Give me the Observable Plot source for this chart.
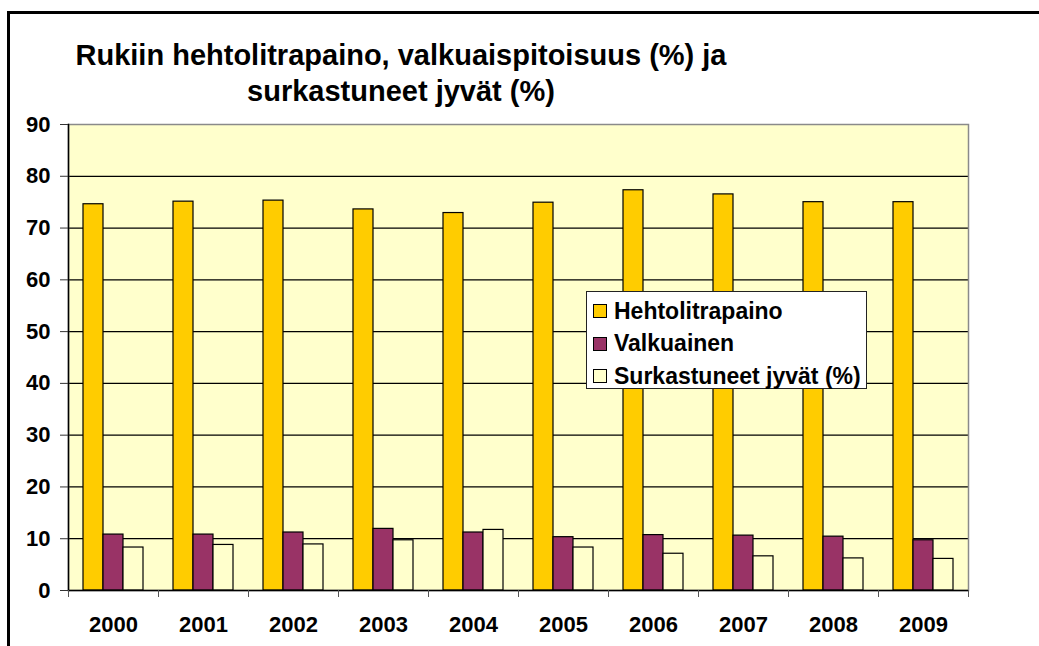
<!DOCTYPE html>
<html>
<head>
<meta charset="utf-8">
<script src="https://cdn.jsdelivr.net/npm/d3@7"></script>
<script src="https://cdn.jsdelivr.net/npm/@observablehq/plot@0.6"></script>
<style>
  html, body { margin: 0; padding: 0; background: #fff; overflow: hidden; }
  #wrap { position: relative; width: 1039px; height: 646px; font-family: "Liberation Sans", Arial, sans-serif; color: #000; }
  #frame { position: absolute; left: 7px; top: 11px; width: 1100px; height: 700px; border: 3px solid #000; box-sizing: border-box; }
  #title { position: relative; height: 110px; }
  #title div { position: absolute; left: 0; top: 37px; width: 802px; text-align: center; font-size: 29px; font-weight: bold; line-height: 36px; }
  #chart { position: relative; }
  #legend { position: absolute; left: 586px; top: 291px; width: 281px; height: 98px; box-sizing: border-box; border: 1px solid #222; background: #fff; }
  .row { position: absolute; left: 6px; height: 24px; display: flex; align-items: center; font-size: 23px; font-weight: bold; white-space: nowrap; }
  .sw { width: 12px; height: 12px; border: 1px solid #000; margin-right: 7px; flex: none; }
</style>
</head>
<body>
<div id="wrap">
  <div id="frame"></div>
  <div id="title"><div>Rukiin hehtolitrapaino, valkuaispitoisuus (%) ja<br>surkastuneet jyvät (%)</div></div>
  <div id="chart"></div>
  <div id="legend"></div>
</div>
<script>
// ---- data ----
const years = ["2000", "2001", "2002", "2003", "2004", "2005", "2006", "2007", "2008", "2009"];
const seriesNames = ["Hehtolitrapaino", "Valkuainen", "Surkastuneet jyvät (%)"];
const hehtolitrapaino = [74.6, 75.1, 75.3, 73.6, 72.9, 74.9, 77.3, 76.5, 75.0, 75.0];
const valkuainen = [10.8, 10.8, 11.2, 11.9, 11.2, 10.3, 10.7, 10.6, 10.4, 9.7];
const surkastuneet = [8.3, 8.8, 8.9, 9.7, 11.7, 8.3, 7.1, 6.6, 6.2, 6.1];
const yTicks = [0, 10, 20, 30, 40, 50, 60, 70, 80, 90];
const colors = ["#FFCC00", "#993366", "#FFFFCC"];

const seriesValues = [hehtolitrapaino, valkuainen, surkastuneet];
const rows = years.flatMap((yr, i) => seriesNames.map((s, j) => ({year: yr, series: s, value: seriesValues[j][i]})));

// ---- layout ----
const W = 1039, H = 536, ML = 68, MR = 71, MT = 14, MB = 56;
const step = (W - ML - MR) / years.length;
const barW = step * 2 / 9;
const offset = (step - seriesNames.length * barW) / 2;
const font = "Liberation Sans, Arial, sans-serif";

const barMarks = seriesNames.map((s, j) =>
  Plot.barY(rows.filter(d => d.series === s), {
    x: "year", y: "value", fill: colors[j], stroke: "#000", strokeWidth: 1.2,
    insetLeft: offset + j * barW,
    insetRight: step - offset - (j + 1) * barW
  })
);

const plot = Plot.plot({
  width: W, height: H,
  marginLeft: ML, marginRight: MR, marginTop: MT, marginBottom: MB,
  style: {fontFamily: font, background: "transparent", overflow: "visible"},
  x: {domain: years, type: "band", padding: 0, axis: null, label: null},
  y: {domain: [0, 90], axis: null, label: null},
  marks: [
    Plot.frame({fill: "#FFFFCC", stroke: "none"}),
    Plot.gridY({ticks: yTicks.slice(1, -1), stroke: "#000", strokeOpacity: 1, strokeWidth: 1.2}),
    Plot.frame({stroke: "#8a8a8a", strokeWidth: 1.5}),
    ...barMarks,
    Plot.frame({anchor: "left", stroke: "#000", strokeWidth: 1.5}),
    Plot.ruleY([0], {stroke: "#000", strokeWidth: 1.5}),
    Plot.axisY({ticks: yTicks, label: null, tickSize: 8, tickPadding: 10, fontSize: 22, fontWeight: "bold", stroke: "#333", fill: "#000"}),
    Plot.axisX({label: null, tickSize: 0, tickPadding: 26, fontSize: 22, fontWeight: "bold", fill: "#000"}),
    Plot.axisX({label: null, tickSize: 7, tickFormat: () => "", dx: -step / 2, stroke: "#555"}),
    Plot.axisX({label: null, ticks: [years[years.length - 1]], tickSize: 7, tickFormat: () => "", dx: step / 2, stroke: "#555"})
  ]
});
document.getElementById("chart").appendChild(plot);

// ---- legend ----
const legend = document.getElementById("legend");
seriesNames.forEach((s, j) => {
  const row = document.createElement("div");
  row.className = "row";
  row.style.top = (7 + j * 32.5) + "px";
  const sw = document.createElement("span");
  sw.className = "sw";
  sw.style.background = colors[j];
  row.appendChild(sw);
  row.appendChild(document.createTextNode(s));
  legend.appendChild(row);
});
</script>
</body>
</html>
